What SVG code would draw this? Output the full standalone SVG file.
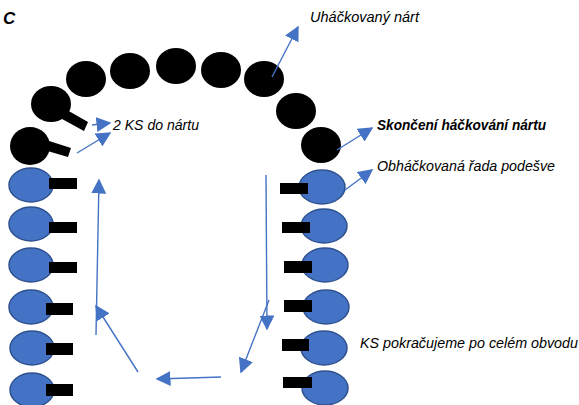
<svg xmlns="http://www.w3.org/2000/svg" width="579" height="405" viewBox="0 0 579 405">
<style>
.blk{fill:#000}
.blue{fill:#4472C4;stroke:#2F528F;stroke-width:1.5}
.ln{stroke:#4472C4;stroke-width:1.4;fill:none}
.t{font-family:"Liberation Sans",Arial,sans-serif;font-style:italic;font-size:14px;fill:#000}
.b{font-weight:bold}
</style>
<defs>
<marker id="ah" viewBox="0 0 10 10" refX="9" refY="5" markerWidth="15" markerHeight="15" markerUnits="userSpaceOnUse" orient="auto">
<path d="M0,0 L10,5 L0,10 Z" fill="#4472C4"/>
</marker>
</defs>
<rect width="579" height="405" fill="#fff"/>
<text class="t b" x="3" y="24" style="font-size:17px">C</text>

<g id="top-stitches">
<g id="s1"><ellipse class="blk" cx="30" cy="146" rx="20" ry="19"/><polygon class="blk" points="46,140 71,148 68,157 44,150"/></g>
<g id="s2"><ellipse class="blk" cx="51" cy="104" rx="20" ry="18"/><polygon class="blk" points="67,110 88,122 84,131 62,119"/></g>
<g id="s3"><ellipse class="blk" cx="86" cy="79" rx="20" ry="18"/></g>
<g id="s4"><ellipse class="blk" cx="130" cy="71" rx="20" ry="18"/></g>
<g id="s5"><ellipse class="blk" cx="176" cy="66" rx="20" ry="18"/></g>
<g id="s6"><ellipse class="blk" cx="221" cy="70" rx="20" ry="18"/></g>
<g id="s7"><ellipse class="blk" cx="264" cy="79" rx="20" ry="18"/></g>
<g id="s8"><ellipse class="blk" cx="296" cy="111" rx="20" ry="18"/></g>
<g id="s9"><ellipse class="blk" cx="321" cy="145" rx="20" ry="18"/></g>
</g>

<g id="left-row">
<g id="l1"><ellipse class="blue" cx="31" cy="185" rx="22" ry="17"/><rect class="blk" x="49" y="178" width="28" height="11"/></g>
<g id="l2"><ellipse class="blue" cx="31" cy="224" rx="22" ry="17"/><rect class="blk" x="49" y="222" width="28" height="11"/></g>
<g id="l3"><ellipse class="blue" cx="31" cy="265" rx="22" ry="17"/><rect class="blk" x="49" y="262" width="28" height="11"/></g>
<g id="l4"><ellipse class="blue" cx="31" cy="307" rx="22" ry="17"/><rect class="blk" x="46" y="303" width="27" height="12"/></g>
<g id="l5"><ellipse class="blue" cx="32" cy="348" rx="22" ry="17"/><rect class="blk" x="46" y="343" width="27" height="12"/></g>
<g id="l6"><ellipse class="blue" cx="32" cy="390" rx="22" ry="17"/><rect class="blk" x="46" y="384" width="27" height="12"/></g>
</g>

<g id="right-row">
<g id="r1"><ellipse class="blue" cx="322" cy="187" rx="23" ry="17"/><rect class="blk" x="280" y="183" width="28" height="11"/></g>
<g id="r2"><ellipse class="blue" cx="324" cy="226" rx="23" ry="17"/><rect class="blk" x="282" y="222" width="28" height="11"/></g>
<g id="r3"><ellipse class="blue" cx="325" cy="265" rx="23" ry="17"/><rect class="blk" x="284" y="261" width="28" height="12"/></g>
<g id="r4"><ellipse class="blue" cx="326" cy="307" rx="23" ry="17"/><rect class="blk" x="284" y="300" width="28" height="12"/></g>
<g id="r5"><ellipse class="blue" cx="324" cy="348" rx="23" ry="17"/><rect class="blk" x="282" y="339" width="27" height="12"/></g>
<g id="r6"><ellipse class="blue" cx="325" cy="388" rx="23" ry="17"/><rect class="blk" x="283" y="377" width="29" height="11"/></g>
</g>

<g id="connectors">
<line class="ln" x1="266" y1="175" x2="267" y2="329" marker-end="url(#ah)"/>
<line class="ln" x1="269" y1="300" x2="241" y2="372" marker-end="url(#ah)"/>
<line class="ln" x1="221" y1="377" x2="157" y2="379" marker-end="url(#ah)"/>
<line class="ln" x1="138" y1="372" x2="96" y2="306" marker-end="url(#ah)"/>
<line class="ln" x1="96" y1="335" x2="99" y2="180" marker-end="url(#ah)"/>
<line class="ln" x1="272" y1="77" x2="298" y2="27" marker-end="url(#ah)"/>
<line class="ln" x1="337" y1="150" x2="372" y2="128" marker-end="url(#ah)"/>
<line class="ln" x1="345" y1="190" x2="372" y2="170" marker-end="url(#ah)"/>
<line class="ln" x1="92" y1="125" x2="110" y2="123" marker-end="url(#ah)"/>
<line class="ln" x1="77" y1="153" x2="110" y2="133" marker-end="url(#ah)"/>
</g>

<g id="labels">
<text class="t" x="310" y="22" textLength="109" lengthAdjust="spacingAndGlyphs">Uháčkovaný nárt</text>
<text class="t b" x="377" y="130" textLength="169" lengthAdjust="spacingAndGlyphs">Skončení háčkování nártu</text>
<text class="t" x="377" y="171" textLength="178" lengthAdjust="spacingAndGlyphs">Obháčkovaná řada podešve</text>
<text class="t" x="113" y="130" textLength="86" lengthAdjust="spacingAndGlyphs">2 KS do nártu</text>
<text class="t" x="360" y="348" textLength="218" lengthAdjust="spacingAndGlyphs">KS pokračujeme po celém obvodu</text>
</g>
</svg>
